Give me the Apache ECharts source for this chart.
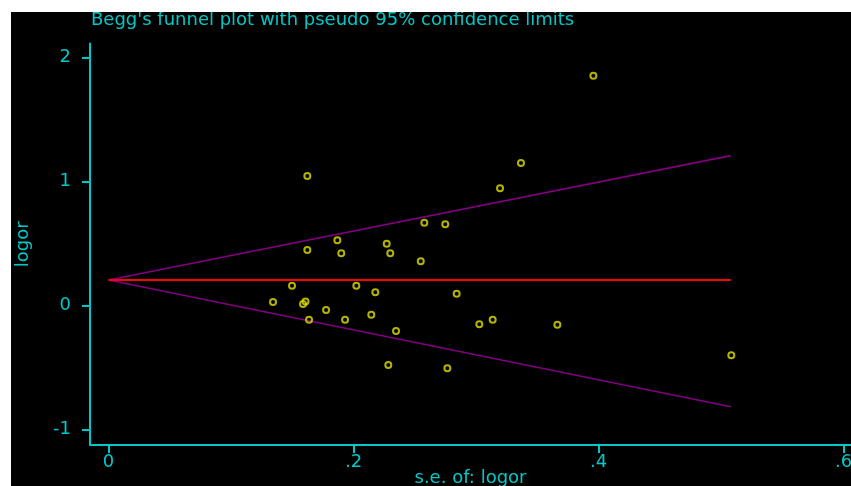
<!DOCTYPE html>
<html>
<head>
<meta charset="utf-8">
<script src="https://cdn.jsdelivr.net/npm/echarts@6/dist/echarts.min.js"></script>
<style>
  html, body { margin: 0; padding: 0; background: #ffffff; width: 851px; height: 486px; overflow: hidden; }
  #chart { position: absolute; left: 11px; top: 12px; width: 840px; height: 474px; background: #000000; }
</style>
</head>
<body>
<div id="chart"></div>
<script>
// standard errors (x) and log odds ratios (y) of each study
const seValues = [0.1623, 0.3196, 0.2578, 0.2749, 0.1868, 0.2271, 0.1623, 0.1900, 0.2300, 0.2549,
                  0.1498, 0.2023, 0.2178, 0.2842, 0.1343, 0.1588, 0.1608, 0.1776, 0.1637, 0.1931,
                  0.2145, 0.2347, 0.3027, 0.3136, 0.2284, 0.2766, 0.3958, 0.3367, 0.3664, 0.5084];
const logorValues = [1.046, 0.947, 0.669, 0.656, 0.527, 0.500, 0.449, 0.423, 0.423, 0.358,
                     0.161, 0.161, 0.108, 0.097, 0.030, 0.014, 0.034, -0.035, -0.113, -0.113,
                     -0.073, -0.204, -0.150, -0.113, -0.478, -0.505, 1.855, 1.151, -0.153, -0.400];
// pooled estimate and pseudo 95% confidence limits (endpoints)
const funnelSe = [0, 0.508];
const pooledLine = [0.207, 0.207];
const upperLimit = [0.207, 1.21];
const lowerLimit = [0.207, -0.815];
// axis ticks
const xTicks = [0, 0.2, 0.4, 0.6];
const yTicks = [-1, 0, 1, 2];

const titleText = "Begg's funnel plot with pseudo 95% confidence limits";
const xName = 's.e. of: logor';
const yName = 'logor';

const CYAN = '#00c8c8';
const FONT = 'DejaVu Sans';

const pts = seValues.map((s, i) => [s, logorValues[i]]);
const pair = (ys) => funnelSe.map((s, i) => [s, ys[i]]);

const chart = echarts.init(document.getElementById('chart'), null, { renderer: 'canvas' });
chart.setOption({
  backgroundColor: '#000000',
  animation: false,
  title: {
    text: titleText,
    left: 75, top: -6,
    textStyle: { color: CYAN, fontFamily: FONT, fontSize: 18, fontWeight: 'normal' }
  },
  grid: { left: 79, right: 0, top: 31.5, bottom: 41, containLabel: false, outerBoundsMode: 'none' },
  xAxis: {
    type: 'value',
    min: -0.0151, max: 0.6061,
    name: xName,
    nameLocation: 'middle',
    nameGap: 24,
    nameMoveOverlap: false,
    nameTextStyle: { color: CYAN, fontFamily: FONT, fontSize: 18 },
    axisLine: { onZero: false, lineStyle: { color: CYAN, width: 2 } },
    axisTick: { show: true, length: 8, customValues: xTicks, lineStyle: { color: CYAN, width: 2 } },
    axisLabel: {
      customValues: xTicks, margin: 8,
      color: CYAN, fontFamily: FONT, fontSize: 18,
      hideOverlap: false,
      formatter: (v) => (v === 0 ? '0' : String(v).replace(/^0/, '').replace(/^-0/, '-'))
    },
    splitLine: { show: false }
  },
  yAxis: {
    type: 'value',
    min: -1.1234, max: 2.1145,
    name: yName,
    nameLocation: 'middle',
    nameGap: 58,
    nameRotate: 90,
    nameMoveOverlap: false,
    nameTextStyle: { color: CYAN, fontFamily: FONT, fontSize: 18 },
    axisLine: { onZero: false, lineStyle: { color: CYAN, width: 2 } },
    axisTick: { show: true, length: 8, customValues: yTicks, lineStyle: { color: CYAN, width: 2 } },
    axisLabel: {
      customValues: yTicks, margin: 19,
      color: CYAN, fontFamily: FONT, fontSize: 18
    },
    splitLine: { show: false }
  },
  series: [
    {
      type: 'line', data: pair(upperLimit), symbol: 'none',
      lineStyle: { color: '#800080', width: 1.6 }, z: 2
    },
    {
      type: 'line', data: pair(lowerLimit), symbol: 'none',
      lineStyle: { color: '#800080', width: 1.6 }, z: 2
    },
    {
      type: 'line', data: pair(pooledLine), symbol: 'none',
      lineStyle: { color: '#ff0000', width: 2 }, z: 3
    },
    {
      type: 'scatter', data: pts,
      symbol: 'circle', symbolSize: 6,
      itemStyle: { color: 'rgba(0,0,0,0)', borderColor: '#e0e000', borderWidth: 2 },
      z: 4
    }
  ]
});
</script>
</body>
</html>
